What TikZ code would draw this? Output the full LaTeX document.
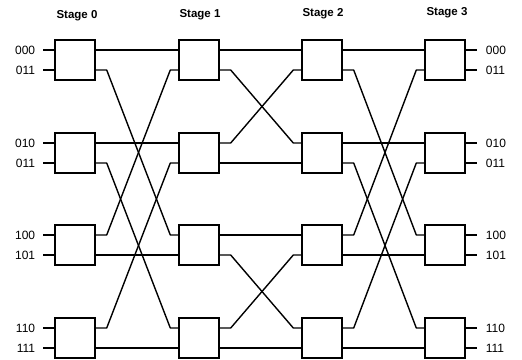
\documentclass[tikz,border=0pt]{standalone}
\usepackage{fontspec}
\setmainfont{Liberation Sans}
\begin{document}
\begin{tikzpicture}[x=1pt,y=-1pt,
  box/.style={draw,line width=1.4pt,minimum width=40pt,minimum height=40pt,inner sep=0pt},
  wire/.style={line width=1.4pt},
  lbl/.style={font=\fontsize{12}{14}\selectfont,inner sep=0pt},
  stagelbl/.style={font=\fontsize{11.5}{13}\selectfont\bfseries,inner sep=0pt}]
\useasboundingbox (0,0) rectangle (522,359);
% boxes
\foreach \s/\x in {0/75,1/199,2/322,3/445}{
  \foreach \r/\y in {1/60,2/153,3/245,4/338}{
    \node[box] (b\s\r) at (\x,\y) {};
  }
}
% stage labels
\node[stagelbl] (s0) at (77,16) {Stage 0};
\node[stagelbl] (s1) at (200,15) {Stage 1};
\node[stagelbl] (s2) at (323,14) {Stage 2};
\node[stagelbl] (s3) at (447,13) {Stage 3};
% input leads and labels
\foreach \r/\la/\lb in {1/000/011,2/010/011,3/100/101,4/110/111}{
  \draw[wire] ([yshift=10pt]b0\r.west) -- ++(-11,0) coordinate (la\r);
  \draw[wire] ([yshift=-10pt]b0\r.west) -- ++(-11,0) coordinate (lb\r);
  \node[lbl,anchor=east] (tla\r) at ([xshift=-8pt]la\r) {\la};
  \node[lbl,anchor=east] (tlb\r) at ([xshift=-8pt]lb\r) {\lb};
  \draw[wire] ([yshift=10pt]b3\r.east) -- ++(11,0) coordinate (ra\r);
  \draw[wire] ([yshift=-10pt]b3\r.east) -- ++(11,0) coordinate (rb\r);
  \node[lbl,anchor=west] (tra\r) at ([xshift=9pt]ra\r) {\la};
  \node[lbl,anchor=west] (trb\r) at ([xshift=9pt]rb\r) {\lb};
}
% straight wires
\foreach \a/\b/\r/\p in {0/1/1/10,0/1/2/10,0/1/3/-10,0/1/4/-10,
                         1/2/1/10,1/2/2/-10,1/2/3/10,1/2/4/-10,
                         2/3/1/10,2/3/2/10,2/3/3/-10,2/3/4/-10}{
  \draw[wire] ([yshift=\p pt]b\a\r.east) -- ([yshift=\p pt]b\b\r.west);
}
% crossing wires
\foreach \a/\ra/\pa/\b/\rb/\pb in {0/1/-10/1/3/10, 0/2/-10/1/4/10, 0/3/10/1/1/-10, 0/4/10/1/2/-10,
                                   1/1/-10/2/2/10, 1/2/10/2/1/-10, 1/3/-10/2/4/10, 1/4/10/2/3/-10,
                                   2/1/-10/3/3/10, 2/2/-10/3/4/10, 2/3/10/3/1/-10, 2/4/10/3/2/-10}{
  \draw[wire,line join=round] ([yshift=\pa pt]b\a\ra.east) -- ++(11,0) -- ([xshift=-8pt,yshift=\pb pt]b\b\rb.west) -- ([yshift=\pb pt]b\b\rb.west);
}
\end{tikzpicture}
\end{document}
